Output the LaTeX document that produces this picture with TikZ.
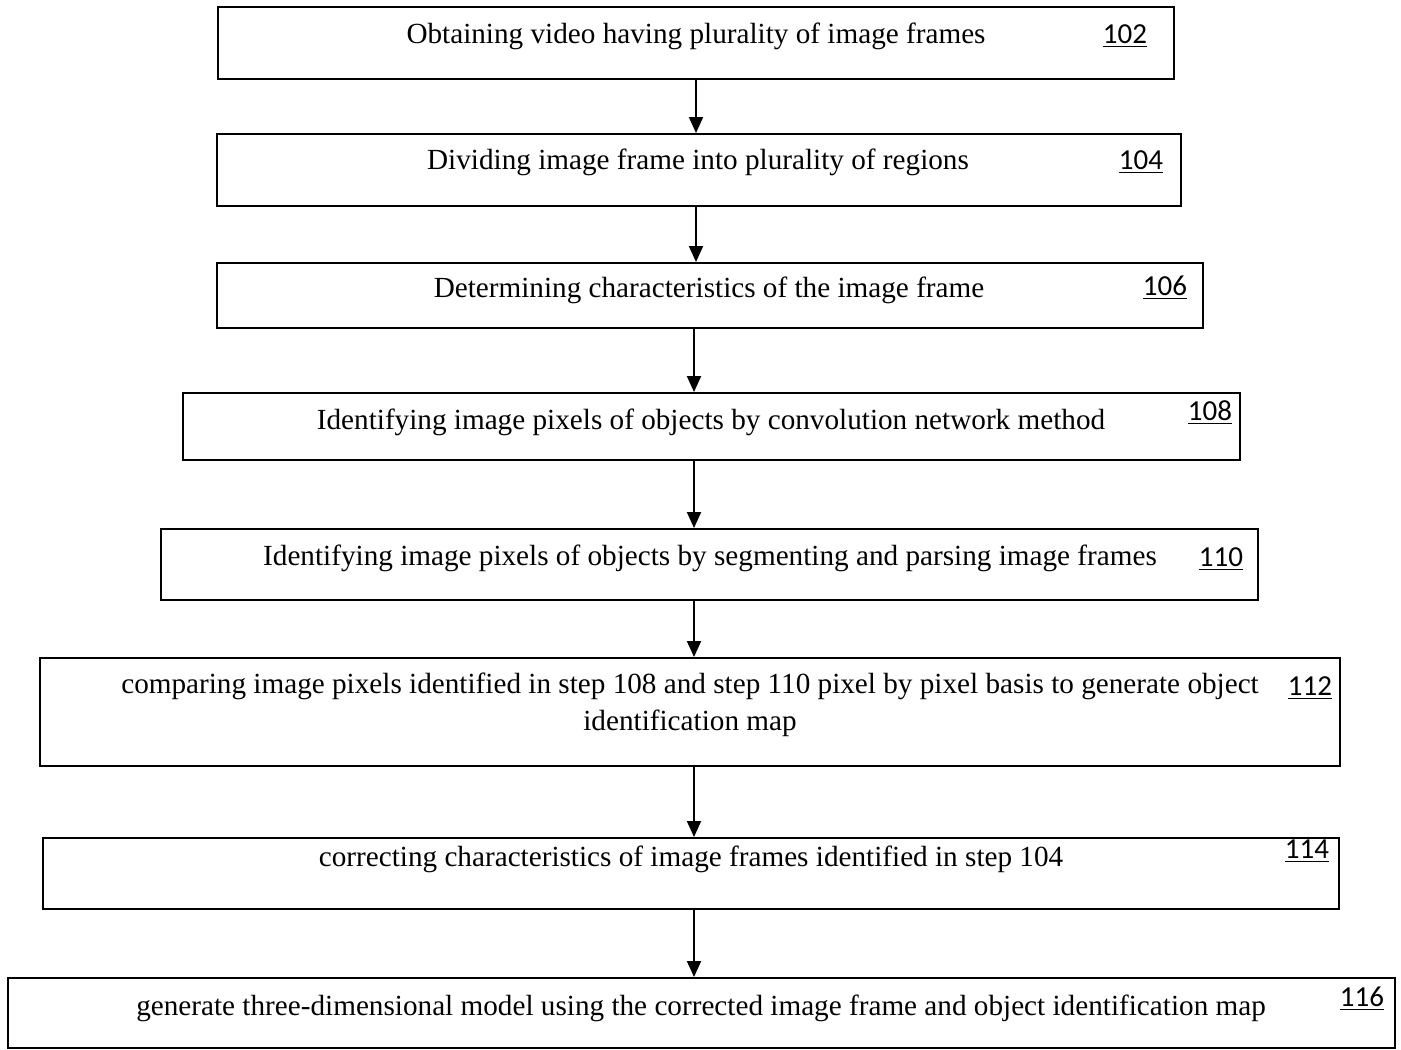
\documentclass[tikz,border=0pt]{standalone}
\usepackage{fontspec}
\setmainfont{Liberation Serif}
\newfontfamily\numfont{Carlito}
\usetikzlibrary{arrows.meta}

\begin{document}
\begin{tikzpicture}[
  x=0.5pt, y=-0.5pt,
  every node/.style={inner sep=0pt},
  box/.style={draw, line width=1pt, rectangle},
  txt/.style={font=\fontsize{14.6}{18.5}\selectfont, align=center},
  num/.style={font=\numfont\fontsize{14.5}{16}\selectfont},
  arr/.style={-{Triangle[length=8pt, width=7pt]}, line width=1pt}
]
\useasboundingbox (0,0) rectangle (1401,1049);
\coordinate (ax) at (696,0);
\coordinate (ay) at (694,0);

% steps
\node[box, minimum width=478pt, minimum height=36pt] (b1) at (696,43) {};
\node[txt] (t1) at (696,36) {Obtaining video having plurality of image frames};
\node[num] (n1) at (1125,36) {\underline{102}};

\node[box, minimum width=482pt, minimum height=36pt] (b2) at (699,170) {};
\node[txt] (t2) at (698,162) {Dividing image frame into plurality of regions};
\node[num] (n2) at (1141,162) {\underline{104}};

\node[box, minimum width=493pt, minimum height=32.5pt] (b3) at (710,295.5) {};
\node[txt] (t3) at (709,290) {Determining characteristics of the image frame};
\node[num] (n3) at (1165,288) {\underline{106}};

\node[box, minimum width=528.5pt, minimum height=33.5pt] (b4) at (711.5,426.5) {};
\node[txt] (t4) at (711,422) {Identifying image pixels of objects by convolution network method};
\node[num] (n4) at (1210,413) {\underline{108}};

\node[box, minimum width=548.5pt, minimum height=35.5pt] (b5) at (709.5,564.5) {};
\node[txt] (t5) at (710,558) {Identifying image pixels of objects by segmenting and parsing image frames};
\node[num] (n5) at (1221,559) {\underline{110}};

\node[box, minimum width=650pt, minimum height=54pt] (b6) at (690,712) {};
\node[txt] (t6) at (690,705) {comparing image pixels identified in step 108 and step 110 pixel by pixel basis to generate object\\identification map};
\node[num] (n6) at (1310,688) {\underline{112}};

\node[box, minimum width=648pt, minimum height=35.5pt] (b7) at (691,873.5) {};
\node[txt] (t7) at (691,859) {correcting characteristics of image frames identified in step 104};
\node[num] (n7) at (1307,851) {\underline{114}};

\node[box, minimum width=693.5pt, minimum height=35pt] (b8) at (701.5,1013) {};
\node[txt] (t8) at (701,1008) {generate three-dimensional model using the corrected image frame and object identification map};
\node[num] (n8) at (1362,999) {\underline{116}};

% flow
\draw[arr] (b1.south -| ax) -- (b2.north -| ax);
\draw[arr] (b2.south -| ax) -- (b3.north -| ax);
\draw[arr] (b3.south -| ay) -- (b4.north -| ay);
\draw[arr] (b4.south -| ay) -- (b5.north -| ay);
\draw[arr] (b5.south -| ay) -- (b6.north -| ay);
\draw[arr] (b6.south -| ay) -- (b7.north -| ay);
\draw[arr] (b7.south -| ay) -- (b8.north -| ay);
\end{tikzpicture}
\end{document}
